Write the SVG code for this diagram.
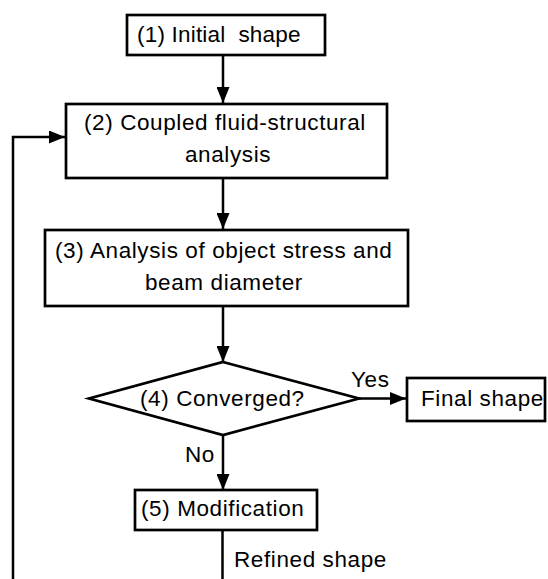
<svg xmlns="http://www.w3.org/2000/svg" width="548" height="579" viewBox="0 0 548 579">
<style>
.box{fill:#fff;stroke:#000;stroke-width:2.7}
.ln{fill:none;stroke:#000;stroke-width:2.5}
text{font-family:"Liberation Sans",Arial,sans-serif;font-size:22.5px;letter-spacing:0.6px;fill:#000}
.pre{white-space:pre;letter-spacing:0.2px}
</style>
<defs>
<marker id="ah" viewBox="0 0 16 13" refX="16" refY="6.5" markerWidth="16" markerHeight="13" markerUnits="userSpaceOnUse" orient="auto">
<path d="M0,0 L16,6.5 L0,13 Z" fill="#000"/>
</marker>
</defs>
<rect width="548" height="579" fill="#fff"/>
<g id="connectors">
<line class="ln" x1="223" y1="56" x2="223" y2="103" marker-end="url(#ah)"/>
<line class="ln" x1="223" y1="178" x2="223" y2="229" marker-end="url(#ah)"/>
<line class="ln" x1="223" y1="306" x2="223" y2="362" marker-end="url(#ah)"/>
<line class="ln" x1="223" y1="435" x2="223" y2="490" marker-end="url(#ah)"/>
<line class="ln" x1="359" y1="398.5" x2="406" y2="398.5" marker-end="url(#ah)"/>
<line class="ln" x1="222.5" y1="531" x2="222.5" y2="580"/>
<polyline class="ln" points="13,580 13,137 65,137" marker-end="url(#ah)"/>
<text x="351" y="387">Yes</text>
<text x="185" y="462">No</text>
<text x="234" y="567">Refined shape</text>
</g>
<g id="n1">
<rect class="box" x="127" y="15" width="198" height="40"/>
<text class="pre" x="137" y="42" xml:space="preserve">(1) Initial  shape</text>
</g>
<g id="n2">
<rect class="box" x="66" y="104" width="321" height="74"/>
<text x="84" y="130">(2) Coupled fluid-structural</text>
<text x="185" y="162">analysis</text>
</g>
<g id="n3">
<rect class="box" x="45" y="230" width="363" height="76"/>
<text x="55" y="258">(3) Analysis of object stress and</text>
<text x="145" y="290">beam diameter</text>
</g>
<g id="n4">
<polygon class="box" points="223,362 359,398.5 223,435 89,398.5"/>
<text x="140" y="406">(4) Converged?</text>
</g>
<g id="final">
<rect class="box" x="407" y="378" width="138" height="43"/>
<text x="421" y="406">Final shape</text>
</g>
<g id="n5">
<rect class="box" x="135" y="490" width="182" height="40"/>
<text x="141" y="516">(5) Modification</text>
</g>
</svg>
